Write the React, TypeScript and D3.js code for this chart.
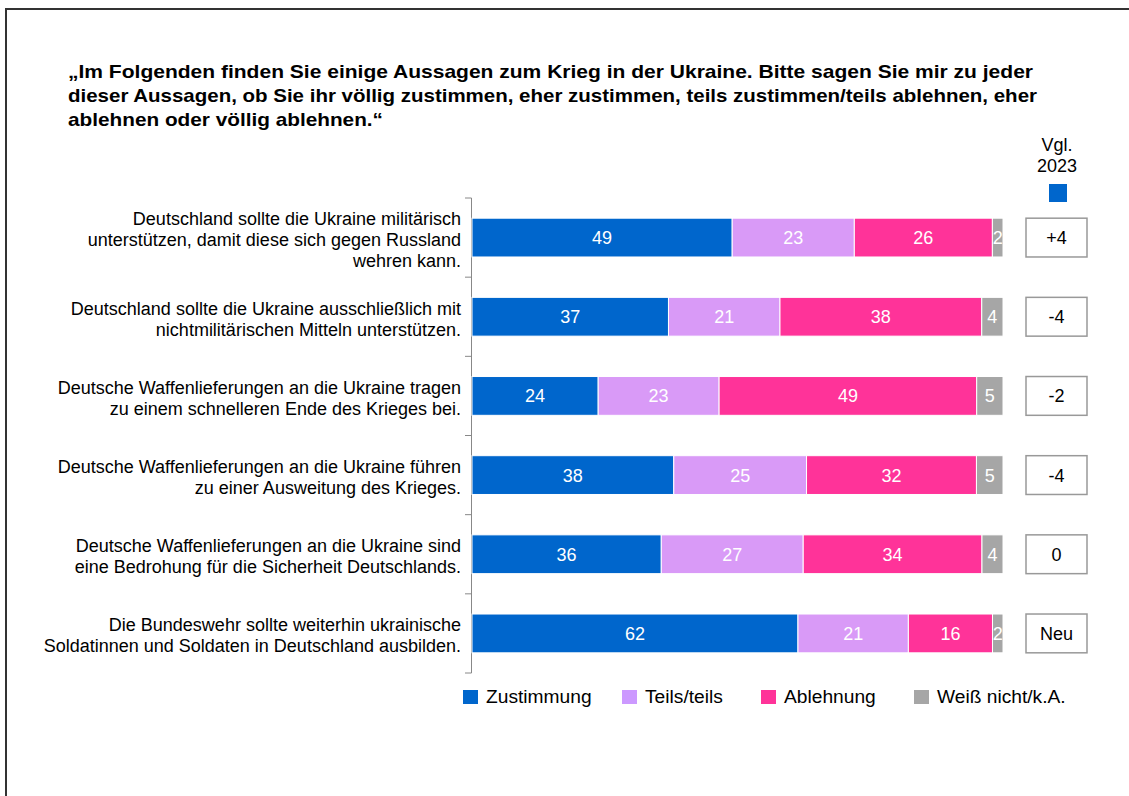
import React from "react";
import * as d3 from "d3";

const categories: string[][] = [
  ["Deutschland sollte die Ukraine militärisch", "unterstützen, damit diese sich gegen Russland", "wehren kann."],
  ["Deutschland sollte die Ukraine ausschließlich mit", "nichtmilitärischen Mitteln unterstützen."],
  ["Deutsche Waffenlieferungen an die Ukraine tragen", "zu einem schnelleren Ende des Krieges bei."],
  ["Deutsche Waffenlieferungen an die Ukraine führen", "zu einer Ausweitung des Krieges."],
  ["Deutsche Waffenlieferungen an die Ukraine sind", "eine Bedrohung für die Sicherheit Deutschlands."],
  ["Die Bundeswehr sollte weiterhin ukrainische", "Soldatinnen und Soldaten in Deutschland ausbilden."],
];

const zustimmung = [49, 37, 24, 38, 36, 62];
const teils = [23, 21, 23, 25, 27, 21];
const ablehnung = [26, 38, 49, 32, 34, 16];
const weissNicht = [2, 4, 5, 5, 4, 2];
const vergleich2023 = ["+4", "-4", "-2", "-4", "0", "Neu"];

const seriesNames = ["Zustimmung", "Teils/teils", "Ablehnung", "Weiß nicht/k.A."];
const barColors = ["#0066CC", "#D99AF7", "#FF3399", "#A6A6A6"];
const legendColors = ["#0066CC", "#CC99FF", "#FF3399", "#A6A6A6"];

const titleLines = [
  "„Im Folgenden finden Sie einige Aussagen zum Krieg in der Ukraine. Bitte sagen Sie mir zu jeder",
  "dieser Aussagen, ob Sie ihr völlig zustimmen, eher zustimmen, teils zustimmen/teils ablehnen, eher",
  "ablehnen oder völlig ablehnen.“",
];
const titleWidths = [965, 969, 315];

const FONT = "'Liberation Sans', Arial, sans-serif";

export default function App() {
  const W = 1129;
  const H = 796;
  const series = [zustimmung, teils, ablehnung, weissNicht];
  const idx = categories.map((_, i) => i);

  const y = d3
    .scaleBand<number>()
    .domain(idx)
    .range([198, 673])
    .paddingInner(0.51)
    .paddingOuter(0.255);
  const x = d3.scaleLinear().domain([0, 100]).range([472, 1003]);

  const rows = idx.map((i) => {
    const vals = series.map((s) => s[i]);
    const total = d3.sum(vals);
    let acc = 0;
    return vals.map((v, k) => {
      const x0 = (acc / total) * 100;
      acc += v;
      const x1 = (acc / total) * 100;
      return { v, k, x0, x1 };
    });
  });

  const step = y.step();
  const ticks = d3.range(categories.length + 1).map((i) => 198 + i * step);
  const legendX = [463, 622, 761, 914];

  return (
    <svg
      width={W}
      height={H}
      style={{ position: "absolute", left: 0, top: 0, background: "#fff" }}
      fontFamily={FONT}
    >
      <rect x={0} y={0} width={W} height={H} fill="#fff" />
      <path d={`M6,${H} V9 H${W}`} fill="none" stroke="#333" strokeWidth={2} />

      {titleLines.map((t, i) => (
        <text
          key={i}
          x={68}
          y={78 + i * 24}
          fontSize={19}
          fontWeight="bold"
          fill="#000"
          textLength={titleWidths[i]}
          lengthAdjust="spacingAndGlyphs"
        >
          {t}
        </text>
      ))}

      <text x={1057} y={151} fontSize={18} textAnchor="middle" fill="#000">Vgl.</text>
      <text x={1057} y={172} fontSize={18} textAnchor="middle" fill="#000">2023</text>
      <rect x={1049} y={184} width={18} height={18} fill="#0066CC" />

      {/* axis */}
      <line x1={471.5} x2={471.5} y1={198} y2={673} stroke="#888" strokeWidth={1} />
      {ticks.map((t, i) => (
        <line key={i} x1={465} x2={471.5} y1={t} y2={t} stroke="#888" strokeWidth={1} />
      ))}

      {idx.map((i) => {
        const by = y(i) as number;
        const bh = y.bandwidth();
        const cy = by + bh / 2;
        const lines = categories[i];
        const lh = 21;
        return (
          <g key={i}>
            {lines.map((l, j) => (
              <text
                key={j}
                x={461}
                y={cy + (j - (lines.length - 1) / 2) * lh + 8.5}
                fontSize={18}
                textAnchor="end"
                fill="#000"
              >
                {l}
              </text>
            ))}
            {rows[i].map((seg) => (
              <g key={seg.k}>
                <rect
                  x={x(seg.x0)}
                  y={by}
                  width={x(seg.x1) - x(seg.x0)}
                  height={bh}
                  fill={barColors[seg.k]}
                  stroke="#fff"
                  strokeWidth={1}
                />
                <text
                  x={(x(seg.x0) + x(seg.x1)) / 2}
                  y={cy + 6.5}
                  fontSize={18}
                  textAnchor="middle"
                  fill="#fff"
                >
                  {seg.v}
                </text>
              </g>
            ))}
            <rect
              x={1026}
              y={by}
              width={61}
              height={bh}
              fill="#fff"
              stroke="#999"
              strokeWidth={1.5}
            />
            <text x={1056.5} y={cy + 6.5} fontSize={18} textAnchor="middle" fill="#000">
              {vergleich2023[i]}
            </text>
          </g>
        );
      })}

      {seriesNames.map((n, k) => (
        <g key={n}>
          <rect x={legendX[k]} y={690} width={15} height={14} fill={legendColors[k]} />
          <text x={legendX[k] + 23} y={703} fontSize={19.2} fill="#000">
            {n}
          </text>
        </g>
      ))}
    </svg>
  );
}
